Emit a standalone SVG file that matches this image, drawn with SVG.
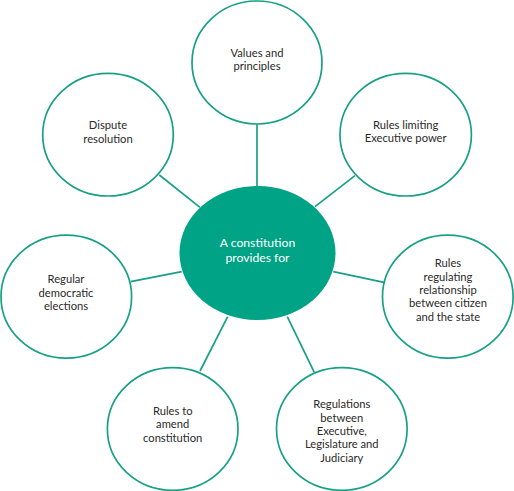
<svg xmlns="http://www.w3.org/2000/svg" width="514" height="491" viewBox="0 0 514 491">
<style>
.node{fill:#ffffff;stroke:#18a086;stroke-width:1.7}
.hub{fill:#00a385;stroke:none}
.conn line{stroke:#18a086;stroke-width:1.7}
text{font-family:Lato,"Open Sans",sans-serif;font-size:11.2px;fill:#2a2a2a;text-anchor:middle}
.hubt{fill:#ffffff;font-size:12.2px}
</style>
<rect width="514" height="491" fill="#ffffff"/>
<g class="conn" id="connectors">
<line x1="257" y1="124" x2="257" y2="187"/>
<line x1="159.3" y1="175" x2="200" y2="207.3"/>
<line x1="355" y1="175.7" x2="315" y2="206.7"/>
<line x1="130.7" y1="281.7" x2="181.7" y2="271.7"/>
<line x1="333.3" y1="271.7" x2="384" y2="282.3"/>
<line x1="227.7" y1="316.7" x2="200" y2="371"/>
<line x1="287.3" y1="316.7" x2="314.3" y2="372.3"/>
</g>
<g id="hub">
<ellipse class="hub" cx="257.5" cy="253" rx="78" ry="67"/>
<text class="hubt" x="257.5" y="247">A constitution</text>
<text class="hubt" x="257.5" y="262">provides for</text>
</g>
<g id="values">
<ellipse class="node" cx="257" cy="62.5" rx="65" ry="61.5"/>
<text x="257" y="57">Values and</text>
<text x="257" y="70.3">principles</text>
</g>
<g id="dispute">
<ellipse class="node" cx="108" cy="134.7" rx="65.3" ry="61.3"/>
<text x="108" y="129.3">Dispute</text>
<text x="108" y="142.7">resolution</text>
</g>
<g id="executive">
<ellipse class="node" cx="405.7" cy="134.7" rx="65.7" ry="61.3"/>
<text x="405.7" y="129">Rules limiting</text>
<text x="405.7" y="142.3">Executive power</text>
</g>
<g id="elections">
<ellipse class="node" cx="66.3" cy="296.7" rx="65.3" ry="61.5"/>
<text x="66" y="283.3">Regular</text>
<text x="66" y="296.7">democratic</text>
<text x="66" y="310">elections</text>
</g>
<g id="citizen">
<ellipse class="node" cx="447.8" cy="296.7" rx="65.3" ry="61.5"/>
<text x="448" y="267.3">Rules</text>
<text x="448" y="280.7">regulating</text>
<text x="448" y="294">relationship</text>
<text x="448" y="307.3">between citizen</text>
<text x="448" y="320.7">and the state</text>
</g>
<g id="amend">
<ellipse class="node" cx="172.7" cy="429" rx="65.3" ry="61.3"/>
<text x="172.7" y="415">Rules to</text>
<text x="172.7" y="428.3">amend</text>
<text x="172.7" y="441.7">constitution</text>
</g>
<g id="branches">
<ellipse class="node" cx="341.8" cy="429" rx="65.3" ry="61.3"/>
<text x="341.8" y="408.3">Regulations</text>
<text x="341.8" y="421.7">between</text>
<text x="341.8" y="435">Executive,</text>
<text x="341.8" y="448.3">Legislature and</text>
<text x="341.8" y="461.7">Judiciary</text>
</g>
</svg>
